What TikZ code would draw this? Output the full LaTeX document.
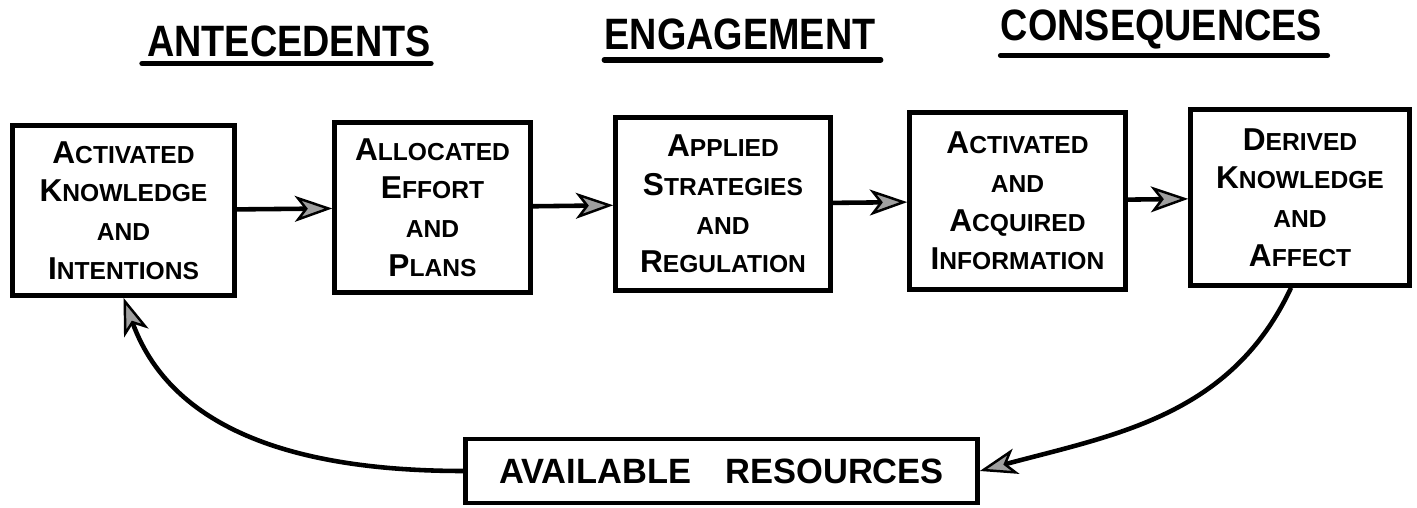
\documentclass[tikz,border=0pt]{standalone}
\usepackage{fontspec}
\setmainfont{Liberation Sans}
\usepackage{graphicx}
\usetikzlibrary{arrows.meta}

\newcommand{\fl}[1]{{\fontsize{18}{22}\selectfont #1}}
\newcommand{\headtext}[1]{\scalebox{0.86}[1]{#1}}

\tikzset{
  stage/.style={draw, line width=2.6pt, align=center, inner sep=0pt,
    font=\bfseries\fontsize{14}{22}\selectfont},
  flow/.style={line width=2.6pt,
    -{Stealth[length=7.5mm, width=5.2mm, inset=2mm, fill=gray!75, line width=1.4pt]}},
  heading/.style={inner sep=0pt, font=\bfseries\fontsize{25}{30}\selectfont},
  rule/.style={line width=3pt, line cap=round}
}

\begin{document}
\begin{tikzpicture}
\useasboundingbox (0,0) rectangle (28.34,10.16);

\node[heading] (antec) at (5.78,9.34) {\headtext{ANTECEDENTS}};
\node[heading] (engage) at (14.8,9.48) {\headtext{ENGAGEMENT}};
\node[heading] (conseq) at (23.23,9.58) {\headtext{CONSEQUENCES}};

\draw[rule] ([shift={(-0.1,-0.13)}]antec.south west) -- ([yshift=-0.13cm]antec.south east);
\draw[rule] ([yshift=-0.2cm]engage.south west) -- ([shift={(0.1,-0.2)}]engage.south east);
\draw[rule] ([yshift=-0.13cm]conseq.south west) -- ([shift={(0.1,-0.13)}]conseq.south east);

\node[stage, minimum width=4.44cm, minimum height=3.4cm] (act) at (2.47,5.95)
  {\fl{A}CTIVATED\\\fl{K}NOWLEDGE\\AND\\\fl{I}NTENTIONS};
\node[stage, minimum width=3.92cm, minimum height=3.4cm] (alloc) at (8.65,6.01)
  {\fl{A}LLOCATED\\\fl{E}FFORT\\AND\\\fl{P}LANS};
\node[stage, minimum width=4.3cm, minimum height=3.46cm] (applied) at (14.46,6.08)
  {\fl{A}PPLIED\\\fl{S}TRATEGIES\\AND\\\fl{R}EGULATION};
\node[stage, minimum width=4.32cm, minimum height=3.54cm] (info) at (20.35,6.14)
  {\fl{A}CTIVATED\\AND\\\fl{A}CQUIRED\\\fl{I}NFORMATION};
\node[stage, minimum width=4.38cm, minimum height=3.52cm] (derived) at (26.0,6.21)
  {\fl{D}ERIVED\\\fl{K}NOWLEDGE\\AND\\\fl{A}FFECT};

\node[stage, minimum width=10.24cm, minimum height=1.28cm,
  font=\bfseries\fontsize{20}{24}\selectfont] (res) at (14.43,0.74)
  {\scalebox{0.98}[1]{AVAILABLE\quad RESOURCES}};

\draw[flow] (act) -- (alloc);
\draw[flow] (alloc) -- (applied);
\draw[flow] (applied) -- (info);
\draw[flow] (info) -- (derived);

\draw[flow] ([xshift=-0.18cm]derived.south) to[out=-115, in=15] (res.east);
\draw[flow] (res.west) to[out=180, in=-70] (act.south);
\end{tikzpicture}
\end{document}
